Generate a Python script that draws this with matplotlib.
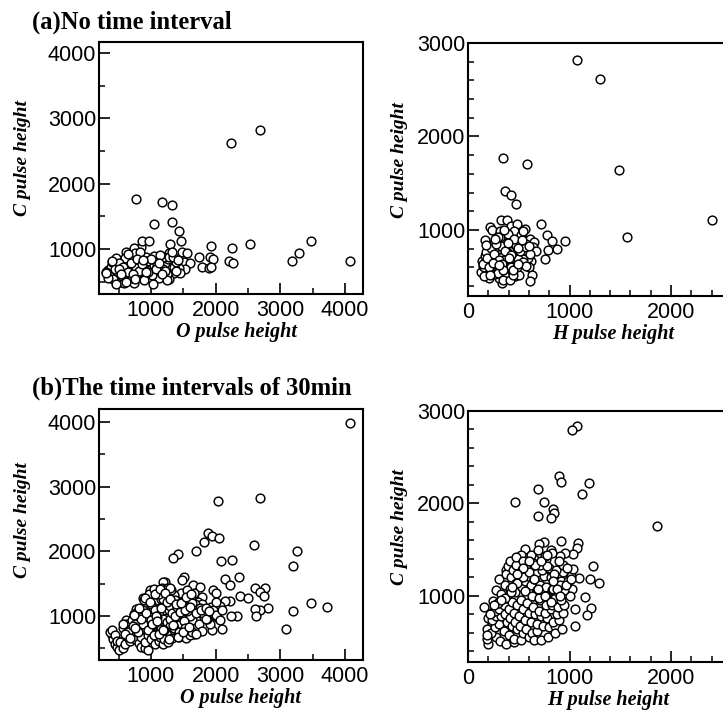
import matplotlib
matplotlib.use('Agg')
import matplotlib.pyplot as plt
from matplotlib.ticker import MultipleLocator

W, H = 723, 711

# (a) no time interval, O vs C
a_o_x = [2690,2237,773,1165,1325,1325,1050,1428,1470,1928,2258,2525,2200,2263,3180,3294,3480,4082,
         850,860,964,1289,732,619,459,706,825,923,1050,1196,1273,1309,1479,1557,1505,1608,1747,1789,1907,1959,1892,1928,
         1531,1428,1350,1284,1247,1119,1015,990,876,912,773,629,526,448,330,474,629,654,773,552,732,887,1040,1144,1222,1350,1454,
         380,350,420,560,600,690,760,830,900,960,1100,1180,1260,1390,300,340,400,480,520,680,820,940,1090,1200,1380,440,590,700,
         500,570,640,720,790,860,930,1000,1070,1140,1210,1280,1340,1410,1240,1170,1030,870,650,510,390,310,460,540,610,750,1120,1320]
a_o_y = [2826,2620,1772,1716,1670,1420,1384,1281,1118,1040,1010,1072,816,790,810,933,1123,810,
         1035,1128,1118,1072,1010,949,857,882,831,882,893,882,933,821,949,944,795,780,882,729,882,841,703,719,
         688,703,627,535,616,550,601,713,703,601,575,524,499,627,678,729,668,754,713,586,473,524,754,729,780,729,627,
         720,600,540,800,860,790,940,960,790,650,800,700,850,800,640,560,800,660,740,620,660,820,760,880,660,700,480,560,
         780,720,640,610,850,770,650,840,690,900,660,880,880,830,520,620,470,830,930,690,810,630,460,610,500,540,780,960]

# (a) no time interval, H vs C
a_h_x = [1072,1302,344,577,1489,367,420,472,718,774,823,954,879,793,754,1567,2403,
         328,387,420,482,564,220,233,311,164,256,344,377,482,541,607,649,639,672,623,600,633,613,459,370,334,302,203,131,141,187,
         246,289,361,443,459,410,311,213,289,393,475,541,590,525,187,262,150,170,210,280,330,400,450,510,560,590,230,270,360,430,500,540,
         175,240,300,350,420,490,570,200,260,320,380,450,520,160,340,410,
         145,190,225,255,280,305,335,365,395,425,455,485,515,545,575,610,160,205,250,295,345,390,440,490,530,570,180,220,265,310,355,400,445,495,545,600]
a_h_y = [2822,2619,1769,1708,1641,1420,1374,1281,1068,943,879,883,801,786,690,929,1103,
         1110,1110,1046,1064,1011,1032,1004,993,893,861,897,950,940,890,904,872,819,772,665,601,523,452,505,512,434,488,488,552,665,630,
         683,594,665,594,737,701,737,754,790,843,843,819,737,648,559,541,620,720,800,900,830,780,700,650,780,700,560,530,620,560,520,690,
         760,640,540,680,600,690,850,580,780,920,760,990,950,600,460,470,
         640,700,810,740,850,680,640,780,960,730,900,600,780,660,820,740,510,600,650,930,570,860,520,810,890,620,840,520,900,630,1000,700,570,640,990,830]

# (b) 30 min intervals, O vs C
b_o_x = [4078,2681,2030,1879,1941,2045,1827,2593,3250,1698,1424,1347,2081,2252,3199,2356,2138,2226,2604,2770,2692,2754,2371,2500,3473,3716,3199,3095,2816,2681,2604,2630,2330,2242,2216,2138,2097,2060,2019,1957,1998,1947,
         1507,1476,1217,1181,1171,1652,1750,1662,1791,1466,984,881,1078,1233,1362,1533,1714,1921,1817,1740,1636,1740,1791,1910,1662,1559,1404,1300,1196,1026,871,767,742,613,675,
         390,420,450,480,510,370,400,440,470,520,560,600,640,680,570,620,660,710,760,810,850,900,960,700,750,800,850,900,950,1000,1060,1120,1180,
         780,840,900,960,1020,1080,1140,1200,1260,1320,1380,1440,1000,1060,1120,1180,1240,1300,1360,1420,1480,1540,1600,1100,1160,1220,1280,1340,1400,1460,1520,1580,1640,1700,
         1250,1310,1370,1430,1490,1550,1610,1670,1730,1790,1850,1900,1180,1240,1300,1560,1620,1680,1750,1800,1860,1960,2010,2060,950,1020,1090,1160,1300,1370,1440,1510,
         560,640,720,800,880,960,1040,1120,1200,1280,1360,1440,1520,600,680,760,840,920,1000,1080,1160,1240,1320,1400,1480,1560,1640,730,810,890,970,1050,1130,1210,1290,1370,1450,1530,1610,1690,1770,1850,
         900,980,1060,1140,1220,1300,1380,1460,1540,1620,1020,1100,1180,1340,1420,1500,1580,1850,1900,2000,2100]
b_o_y = [3979,2820,2773,2289,2237,2206,2144,2093,2005,2005,1954,1902,1845,1861,1768,1603,1577,1485,1438,1428,1371,1309,1309,1278,1206,1139,1072,794,1119,1088,1103,1000,995,1000,1232,1232,804,1149,985,1407,1356,789,
         1603,1552,1526,1526,1438,1474,1448,1356,1294,1361,1397,1273,1242,1320,1320,1253,1216,1139,985,1062,933,881,768,881,716,768,789,881,1088,1113,1088,1113,1036,933,881,
         700,640,560,520,480,760,790,700,620,600,500,560,680,620,820,880,780,700,640,580,520,500,480,940,880,760,680,600,700,640,560,620,560,
         1060,980,900,840,780,720,680,640,600,660,720,680,1180,1100,1020,960,900,840,780,760,700,660,700,1340,1260,1180,1100,1020,960,900,860,800,760,720,
         1440,1400,1250,1180,1120,1060,1000,1140,1220,1180,1080,1000,1260,1190,1150,1400,1280,1180,1120,1050,960,1100,1020,940,960,860,980,800,960,1040,860,930,
         880,760,840,760,880,780,700,720,780,640,820,760,820,720,660,820,960,1040,940,1000,1120,1220,1040,1140,1220,1080,1200,1020,1120,1240,1340,1420,1340,1400,1440,1000,1060,1100,1140,1040,1100,1120,
         1280,1220,1340,1420,1360,1260,1180,1200,1300,1340,880,920,780,860,680,760,830,960,1080,1220,1100]

# (b) 30 min intervals, H vs C
b_h_x = [1072,1026,898,915,1190,1125,689,462,748,833,843,816,692,1866,
         918,1085,1072,744,698,564,820,1033,951,902,1230,1098,1203,1292,1148,1213,1052,1170,1056,869,161,1026,1016,1033,443,525,646,770,377,
         200,190,210,240,280,320,370,450,190,230,270,310,350,400,450,520,200,240,280,330,380,430,480,540,600,190,230,270,310,360,410,460,510,570,630,680,
         250,300,350,400,450,500,560,620,680,740,800,860,280,330,380,430,480,540,600,660,720,780,840,900,310,360,410,460,520,580,640,700,760,820,880,940,
         370,420,470,530,590,650,710,770,830,890,950,1000,390,440,500,560,620,680,740,800,860,920,980,410,470,530,590,650,710,770,830,890,950,470,540,610,680,750,820,880,940,
         650,720,790,860,930,590,660,730,800,870,940,500,570,640,710,780,850,920,990,560,630,700,770,840,910,980,620,690,760,830,900,300,360,420,480,540,600,660,720,780,840,880,760,820,910,970,1010,690,650,600,540,480,430,330,260,220]
b_h_y = [2837,2793,2301,2236,2217,2101,2152,2011,2014,1942,1895,1844,1866,1757,
         1591,1572,1518,1583,1558,1507,1496,1449,1467,1431,1326,1192,1185,1141,986,870,859,797,670,652,880,1076,1221,1293,1373,1438,1402,1395,1286,
         480,540,610,700,560,510,480,500,640,600,660,700,620,580,540,520,760,740,780,780,720,680,640,600,560,580,820,840,860,800,760,720,680,640,600,620,
         950,920,900,860,820,780,740,720,700,680,660,680,1060,1020,980,940,900,860,820,800,780,760,720,740,1180,1120,1080,1040,960,920,880,840,820,860,800,820,
         1240,1200,1140,1100,1060,1000,960,900,900,880,900,1000,1320,1280,1240,1160,1120,1060,1040,1000,980,960,1140,1380,1340,1280,1220,1180,1120,1100,1060,1040,1060,1420,1380,1320,1260,1220,1200,1160,1260,
         520,520,560,600,640,1290,1340,1280,1300,1280,1340,1240,1300,1360,1340,1320,1240,1160,1160,1050,1000,980,1000,1080,1120,1300,1440,1500,1430,1460,1380,920,980,1040,1140,1200,1260,1340,1380,1440,1160,1080,1000,940,1000,1120,1180,1080,1180,1380,1300,1240,1100,960,900,800]

# panel text
o_label = 'O pulse height'
h_label = 'H pulse height'
c_label = 'C pulse height'
title_a = '(a)No time interval'
title_b = '(b)The time intervals of 30min'


def make_ax(l, t, r, b, xlim, ylim, xminor, yminor, xticks, yticks):
    ax = fig.add_axes([l/W, 1-b/H, (r-l)/W, (b-t)/H])
    ax.set_xlim(xlim)
    ax.set_ylim(ylim)
    ax.set_xticks(xticks)
    ax.set_yticks(yticks)
    ax.xaxis.set_minor_locator(MultipleLocator(xminor))
    ax.yaxis.set_minor_locator(MultipleLocator(yminor))
    ax.tick_params(which='major', direction='in', length=8, width=1.2, labelsize=15.5)
    ax.tick_params(which='minor', direction='in', length=4, width=1.1)
    ax.tick_params(axis='x', which='major', pad=4)
    ax.tick_params(axis='y', which='major', pad=2)
    for s in ax.spines.values():
        s.set_linewidth(1.5)
    return ax


def px_text(x, y, s, size, style='italic', rotation=0, ha='center', va='center'):
    fig.text(x/W, 1-y/H, s, fontsize=size, family='Liberation Serif', weight='bold',
             style=style, rotation=rotation, ha=ha, va=va)


plt.rcParams['font.family'] = 'Liberation Sans'
fig = plt.figure(figsize=(W/100, H/100), dpi=100)

o_ticks = [1000, 2000, 3000, 4000]
h_ticks = [0, 1000, 2000]
h_yticks = [1000, 2000, 3000]

ax1 = make_ax(99, 42, 363, 294, (196, 4278), (310, 4170), 500, 500, o_ticks, o_ticks)
ax2 = make_ax(468, 43, 723, 296, (0, 2512), (294, 3000), 200, 200, h_ticks, h_yticks)
ax3 = make_ax(99, 409, 363, 660, (196, 4278), (320, 4200), 500, 500, o_ticks, o_ticks)
ax4 = make_ax(468, 411, 723, 662, (0, 2512), (286, 3000), 200, 200, h_ticks, h_yticks)

# the right hand panels run off the page
ax2.spines['right'].set_visible(False)
ax4.spines['right'].set_visible(False)

for ax, x, y in [(ax1, a_o_x, a_o_y), (ax2, a_h_x, a_h_y), (ax3, b_o_x, b_o_y), (ax4, b_h_x, b_h_y)]:
    ax.plot(x, y, 'o', ms=6.3, mfc='white', mec='black', mew=1.05, ls='none')

px_text(32, 22, title_a, 17.7, style='normal', ha='left')
px_text(32, 388, title_b, 17.7, style='normal', ha='left')

px_text(237, 332, o_label, 14.5)
px_text(613, 334, h_label, 14.5)
px_text(240, 698, o_label, 14.5)
px_text(608, 700, h_label, 14.5)
px_text(23, 158, c_label, 14, rotation=90)
px_text(400, 160, c_label, 14, rotation=90)
px_text(23, 520, c_label, 14, rotation=90)
px_text(400, 527, c_label, 14, rotation=90)

fig.savefig('out.png', dpi=100)
